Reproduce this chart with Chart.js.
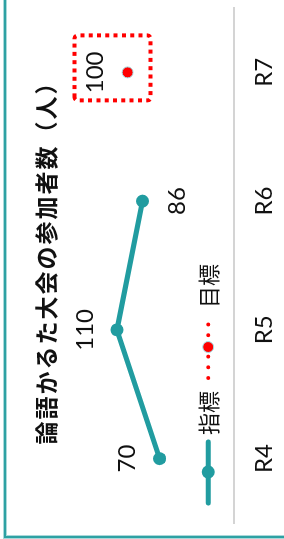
<!DOCTYPE html>
<html>
<head>
<meta charset="utf-8">
<script src="https://cdn.jsdelivr.net/npm/chart.js@4"></script>
<style>
  html, body { margin: 0; padding: 0; overflow: hidden; background: #fff; }
  /* the chart is drawn landscape and turned a quarter turn to the left */
  #wrap { position: absolute; left: 0; top: 0; width: 539px; height: 284px;
          transform: translate(0, 539px) rotate(-90deg); transform-origin: 0 0; overflow: hidden; }
  #frame { position: absolute; left: 1px; top: 4px; width: 580px; height: 320px;
           border: 2px solid #2ea1a3; box-shadow: 0 0 0 1px #a9d9da, inset 0 0 0 1px #a9d9da; }
  #box { position: absolute; left: 0; top: 0; width: 539px; height: 303px; }
</style>
</head>
<body>
<div id="wrap">
  <div id="frame"></div>
  <div id="box"><canvas id="grafico_sanka"></canvas></div>
</div>
<script>
const nendo = ['R4', 'R5', 'R6', 'R7'];
const sankasha = [70, 110, 86, null];
const mokuhyo = [null, null, null, 100];
const series = ['指標', '目標'];
const titulo = '論語かるた大会の参加者数（人）';

const teal = '#219ca0';
const red = '#ff0000';
const numFont = '24px Lato, "Noto Sans CJK JP", sans-serif';

// titulo, leyenda, etiquetas y el recuadro del objetivo
const extras = {
  id: 'extras',
  afterDatasetsDraw(chart) {
    const { ctx, chartArea } = chart;
    ctx.save();

    // titulo
    ctx.fillStyle = '#111';
    ctx.font = 'bold 23px "Noto Sans CJK JP", sans-serif';
    ctx.letterSpacing = '2px';
    ctx.textAlign = 'center';
    ctx.textBaseline = 'middle';
    ctx.fillText(titulo, 282, 46);
    ctx.letterSpacing = '0px';

    // etiquetas de valor
    ctx.font = numFont;
    chart.data.datasets.forEach((ds, i) => {
      const meta = chart.getDatasetMeta(i);
      meta.data.forEach((pt, j) => {
        const v = ds.data[j];
        if (v === null || v === undefined) return;
        const below = ds.labelBelow && ds.labelBelow[j];
        ctx.fillText(String(v), pt.x, pt.y + (below ? 35 : -32));
      });
    });

    // recuadro punteado alrededor del objetivo
    const meta1 = chart.getDatasetMeta(1);
    mokuhyo.forEach((v, j) => {
      if (v === null) return;
      const pt = meta1.data[j];
      ctx.strokeStyle = red;
      ctx.lineWidth = 4;
      ctx.setLineDash([4, 4.3]);
      ctx.beginPath();
      ctx.roundRect(pt.x - 28, pt.y - 53, 65, 76, 3);
      ctx.stroke();
    });

    // leyenda
    const ly = chartArea.bottom - 26;
    let x = 36;
    ctx.setLineDash([]);
    ctx.lineCap = 'round';
    ctx.strokeStyle = teal;
    ctx.lineWidth = 5;
    ctx.beginPath();
    ctx.moveTo(x, ly);
    ctx.lineTo(x + 61, ly);
    ctx.stroke();
    ctx.fillStyle = teal;
    ctx.beginPath();
    ctx.arc(x + 31, ly, 6.5, 0, Math.PI * 2);
    ctx.fill();
    x += 68;
    ctx.fillStyle = '#111';
    ctx.font = '22px "Noto Sans CJK JP", sans-serif';
    ctx.textAlign = 'left';
    ctx.fillText(series[0], x, ly);
    x += ctx.measureText(series[0]).width + 13;

    ctx.strokeStyle = red;
    ctx.lineWidth = 4;
    ctx.setLineDash([0, 10.7]);
    ctx.beginPath();
    ctx.moveTo(x, ly);
    ctx.lineTo(x + 56, ly);
    ctx.stroke();
    ctx.setLineDash([]);
    ctx.fillStyle = red;
    ctx.strokeStyle = '#9fe3ea';
    ctx.lineWidth = 1;
    ctx.beginPath();
    ctx.arc(x + 31, ly, 5.5, 0, Math.PI * 2);
    ctx.fill();
    ctx.stroke();
    x += 70;
    ctx.fillStyle = '#111';
    ctx.fillText(series[1], x, ly);

    ctx.restore();
  }
};

new Chart(document.getElementById('grafico_sanka'), {
  type: 'line',
  data: {
    labels: nendo,
    datasets: [{
      label: series[0],
      data: sankasha,
      borderColor: teal,
      backgroundColor: teal,
      borderWidth: 5,
      pointRadius: 6.5,
      pointBorderWidth: 0,
      pointBackgroundColor: teal,
      labelBelow: [false, false, true, false]
    }, {
      label: series[1],
      data: mokuhyo,
      borderColor: red,
      backgroundColor: red,
      borderDash: [0, 10],
      pointRadius: 5.5,
      pointBorderWidth: 1,
      pointBorderColor: '#9fe3ea',
      pointBackgroundColor: red
    }]
  },
  options: {
    responsive: true,
    maintainAspectRatio: false,
    animation: false,
    layout: {
      padding: { top: 21, left: 16, right: 8, bottom: 8 }
    },
    scales: {
      x: {
        offset: true,
        grid: { display: false, drawTicks: false },
        border: { display: true, color: '#d4d4d4', width: 2 },
        ticks: { color: '#111', padding: 16, font: { family: 'Lato', size: 24 } }
      },
      y: {
        display: false,
        min: 0,
        max: 200
      }
    },
    plugins: {
      legend: { display: false },
      title: { display: false },
      tooltip: { enabled: false }
    }
  },
  plugins: [extras]
});
</script>
</body>
</html>
